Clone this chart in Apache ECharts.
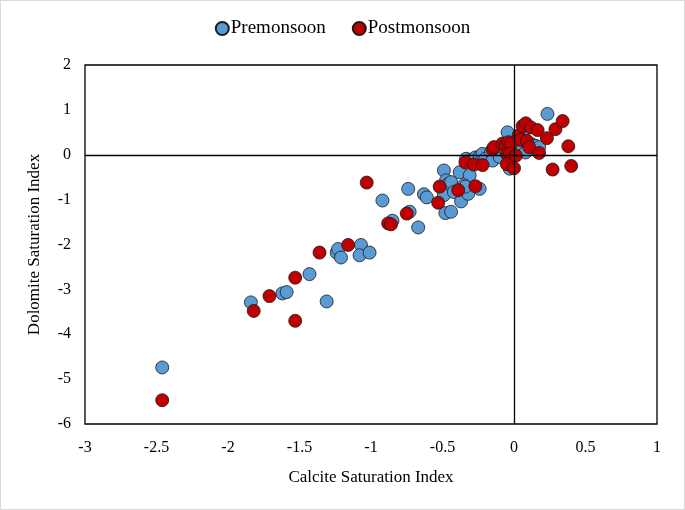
<!DOCTYPE html>
<html>
<head>
<meta charset="utf-8">
<script src="https://cdn.jsdelivr.net/npm/echarts@6/dist/echarts.min.js"></script>
<style>
html,body{margin:0;padding:0;background:#fff;}
#c{width:685px;height:510px;box-sizing:border-box;border:1px solid #d9d9d9;}
</style>
</head>
<body>
<div id="c"></div>
<script>
var xTicks = [-3, -2.5, -2, -1.5, -1, -0.5, 0, 0.5, 1];
var yTicks = [-6, -5, -4, -3, -2, -1, 0, 1, 2];
var seriesNames = ['Premonsoon', 'Postmonsoon'];

var premonsoon = [
  [-2.46,-4.74],[-1.84,-3.29],[-1.62,-3.09],[-1.59,-3.06],[-1.43,-2.66],[-1.31,-3.27],
  [-1.24,-2.18],[-1.23,-2.10],[-1.21,-2.29],[-1.07,-2.01],[-1.08,-2.24],[-1.01,-2.18],
  [-0.92,-1.02],[-0.85,-1.47],[-0.74,-0.76],[-0.73,-1.27],[-0.67,-1.62],[-0.63,-0.88],
  [-0.61,-0.95],[-0.49,-0.35],[-0.475,-0.57],[-0.46,-0.65],[-0.44,-0.61],[-0.49,-0.90],
  [-0.48,-1.30],[-0.44,-1.27],[-0.42,-0.83],[-0.38,-0.39],[-0.31,-0.46],[-0.37,-1.04],
  [-0.32,-0.87],[-0.35,-0.68],[-0.34,-0.71],[-0.24,-0.76],[-0.335,-0.09],[-0.30,-0.11],
  [-0.27,-0.06],[-0.24,-0.04],[-0.22,0.02],[-0.20,-0.09],[-0.16,0.06],[-0.15,-0.13],
  [-0.10,-0.02],[-0.10,-0.05],[-0.03,-0.31],[-0.045,0.50],[0.06,0.46],[0.05,0.09],
  [0.12,0.24],[0.15,0.20],[0.165,0.11],[0.176,0.17],[0.234,0.91],[0.00,0.15],
  [0.03,0.25],[-0.06,0.10],[0.08,0.05]
];
var postmonsoon = [
  [-2.46,-5.47],[-1.82,-3.48],[-1.71,-3.15],[-1.53,-2.74],[-1.53,-3.70],[-1.36,-2.18],
  [-1.16,-2.01],[-1.03,-0.62],[-0.88,-1.53],[-0.86,-1.55],[-0.75,-1.31],[-0.52,-0.71],
  [-0.53,-1.07],[-0.39,-0.79],[-0.27,-0.70],[-0.34,-0.17],[-0.28,-0.22],[-0.22,-0.23],
  [-0.15,0.12],[-0.14,0.17],[-0.08,0.25],[-0.06,0.20],[-0.04,0.28],[-0.02,0.24],
  [-0.05,0.02],[-0.03,0.02],[0.013,-0.02],[-0.05,-0.21],[0.00,-0.30],[0.032,0.43],
  [0.05,0.33],[0.06,0.64],[0.083,0.70],[0.118,0.61],[0.09,0.31],[0.106,0.17],
  [0.165,0.55],[0.176,0.04],[0.23,0.37],[0.29,0.57],[0.34,0.75],[0.38,0.19],
  [0.40,-0.25],[0.27,-0.33]
];

var font = 'Liberation Serif';
var chart = echarts.init(document.getElementById('c'), null, {renderer: 'canvas'});
chart.setOption({
  animation: false,
  backgroundColor: '#fff',
  textStyle: {fontFamily: font},
  legend: {
    top: 13, left: 'center',
    itemWidth: 13, itemHeight: 13, itemGap: 26,
    textStyle: {fontFamily: font, fontSize: 19, color: '#000', padding: [0,0,0,-3]},
    data: seriesNames.map(function(n){return {name: n, icon: 'circle'};})
  },
  grid: {left: 84, right: 27, top: 64, bottom: 85, show: true, borderColor: '#000', borderWidth: 1.3, backgroundColor: 'transparent'},
  xAxis: {
    type: 'value', min: xTicks[0], max: xTicks[xTicks.length-1], interval: 0.5,
    name: 'Calcite Saturation Index', nameLocation: 'middle', nameGap: 45,
    nameTextStyle: {fontFamily: font, fontSize: 17, color: '#000'},
    axisLine: {show: false}, axisTick: {show: false}, splitLine: {show: false},
    axisLabel: {fontFamily: font, fontSize: 16, color: '#000', margin: 16,
      formatter: function(v){ return xTicks.indexOf(v) >= 0 ? String(v) : ''; }}
  },
  yAxis: {
    type: 'value', min: yTicks[0], max: yTicks[yTicks.length-1], interval: 1,
    name: 'Dolomite Saturation Index', nameLocation: 'middle', nameGap: 42,
    nameTextStyle: {fontFamily: font, fontSize: 17, color: '#000'},
    axisLine: {show: false}, axisTick: {show: false}, splitLine: {show: false},
    axisLabel: {fontFamily: font, fontSize: 16, color: '#000', margin: 14,
      formatter: function(v){ return yTicks.indexOf(v) >= 0 ? String(v) : ''; }}
  },
  series: [
    {
      name: seriesNames[0], type: 'scatter', data: premonsoon, symbol: 'circle', symbolSize: 13,
      itemStyle: {color: '#5B9BD5', borderColor: '#1a1a1a', borderWidth: 0.8, opacity: 1},
      markLine: {
        silent: true, symbol: 'none', label: {show: false},
        lineStyle: {color: '#000', width: 1.3, type: 'solid'},
        data: [{xAxis: 0}, {yAxis: 0}]
      },
      z: 2
    },
    {
      name: seriesNames[1], type: 'scatter', data: postmonsoon, symbol: 'circle', symbolSize: 13,
      itemStyle: {color: '#C00000', borderColor: '#1a1a1a', borderWidth: 0.8, opacity: 1},
      z: 3
    }
  ]
});
</script>
</body>
</html>
